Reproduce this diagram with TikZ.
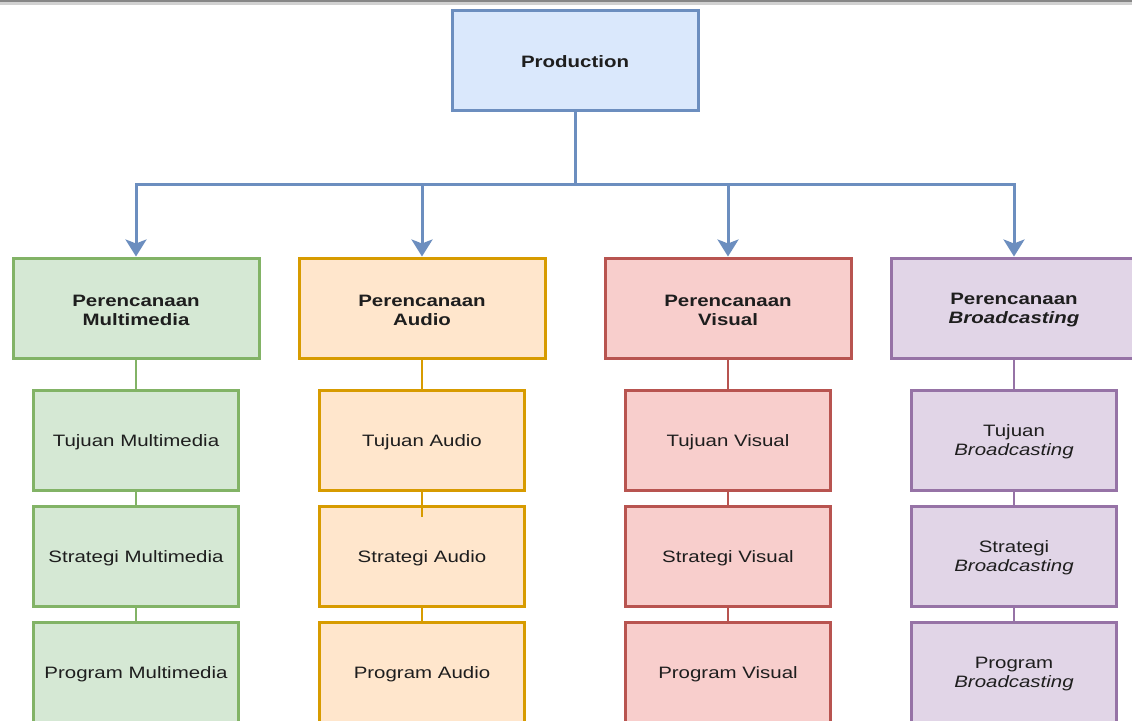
\documentclass[tikz,border=0pt]{standalone}
\usepackage{fontspec}
\setmainfont{Liberation Sans}[FakeStretch=1.24]
\usetikzlibrary{arrows.meta}
\definecolor{bfill}{HTML}{DAE8FC}\definecolor{bline}{HTML}{6C8EBF}
\definecolor{gfill}{HTML}{D5E8D4}\definecolor{gline}{HTML}{82B366}
\definecolor{ofill}{HTML}{FFE6CC}\definecolor{oline}{HTML}{D79B00}
\definecolor{rfill}{HTML}{F8CECC}\definecolor{rline}{HTML}{B85450}
\definecolor{pfill}{HTML}{E1D5E7}\definecolor{pline}{HTML}{9673A6}
\definecolor{txt}{HTML}{1E1E1E}
\tikzset{
  box/.style={draw, line width=3pt, align=center, text=txt, inner sep=0pt,
    font=\fontsize{16.5}{19}\selectfont},
  big/.style={box, minimum width=246pt, minimum height=100pt, text height=35pt, font=\fontsize{16.5}{19}\selectfont\bfseries},
  one/.style={text height=16pt},
  small/.style={box, minimum width=205pt, minimum height=100pt, text height=35pt},
  G/.style={fill=gfill, draw=gline}, O/.style={fill=ofill, draw=oline},
  R/.style={fill=rfill, draw=rline}, P/.style={fill=pfill, draw=pline},
  arrowline/.style={draw=bline, line width=3pt, -{Stealth[length=17pt,width=21pt,inset=4pt]}},
  link/.style={line width=2.8pt}
}
\begin{document}
\begin{tikzpicture}[x=1pt,y=-1pt]
\useasboundingbox (0,0) rectangle (1132,720);
\clip (0,0) rectangle (1132,720);
\fill[white] (0,0) rectangle (1132,720);
\fill[gray!95] (0,0) rectangle (1132,1.5);
\fill[black!18] (0,1.5) rectangle (1132,4.5);

\node[big, one, fill=bfill, draw=bline] (prod) at (575,60) {Production};

\node[big, G] (pa) at (136,308) {Perencanaan\\Multimedia};
\node[big, O] (pb) at (422,308) {Perencanaan\\Audio};
\node[big, R] (pc) at (728,308) {Perencanaan\\Visual};
\node[big, P] (pd) at (1014,308) {Perencanaan\\\textit{Broadcasting}};

\node[small, one, G] (ta) at (136,440) {Tujuan Multimedia};
\node[small, one, G] (sa) at (136,556) {Strategi Multimedia};
\node[small, one, G] (ga) at (136,672) {Program Multimedia};

\node[small, one, O] (tb) at (422,440) {Tujuan Audio};
\node[small, one, O] (sb) at (422,556) {Strategi Audio};
\node[small, one, O] (gb) at (422,672) {Program Audio};

\node[small, one, R] (tc) at (728,440) {Tujuan Visual};
\node[small, one, R] (sc) at (728,556) {Strategi Visual};
\node[small, one, R] (gc) at (728,672) {Program Visual};

\node[small, P] (td) at (1014,440) {Tujuan\\\textit{Broadcasting}};
\node[small, P] (sd) at (1014,556) {Strategi\\\textit{Broadcasting}};
\node[small, P] (gd) at (1014,672) {Program\\\textit{Broadcasting}};

\coordinate (bus) at (575,184);
\draw[arrowline] (prod.south) -- (bus) -| (pa.north);
\draw[arrowline] (bus) -| (pb.north);
\draw[arrowline] (bus) -| (pc.north);
\draw[arrowline] (bus) -| (pd.north);

\draw[link, gline] (pa.south) -- (ta.north);
\draw[link, gline] (ta.south) -- (sa.north);
\draw[link, gline] (sa.south) -- (ga.north);

\coordinate (ov) at (422,517);
\draw[link, oline] (pb.south) -- (tb.north);
\draw[link, oline] (tb.south) -- (ov);
\draw[link, oline] (sb.south) -- (gb.north);

\draw[link, rline] (pc.south) -- (tc.north);
\draw[link, rline] (tc.south) -- (sc.north);
\draw[link, rline] (sc.south) -- (gc.north);

\draw[link, pline] (pd.south) -- (td.north);
\draw[link, pline] (td.south) -- (sd.north);
\draw[link, pline] (sd.south) -- (gd.north);
\end{tikzpicture}
\end{document}
